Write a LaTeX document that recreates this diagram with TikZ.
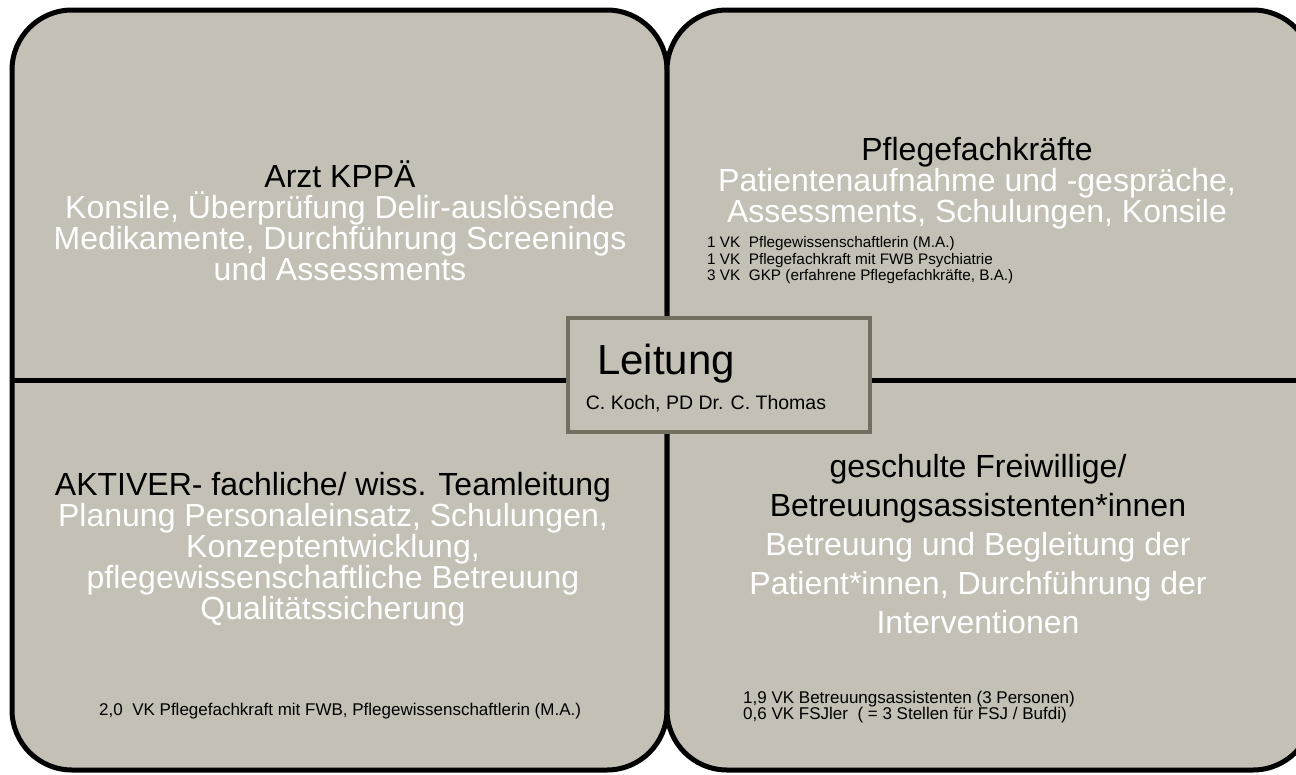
\documentclass[tikz,border=0pt]{standalone}
\usepackage{fontspec}
\setmainfont{Liberation Sans}
\definecolor{panelfill}{RGB}{196,192,182}
\definecolor{boxline}{RGB}{114,110,96}
\newcommand{\wt}[1]{\textcolor{white}{#1}}
\tikzset{
  panel/.style={draw=black, line width=5pt, fill=panelfill, rounded corners=60pt},
  divider/.style={draw=black, line width=5pt},
  bigtext/.style={align=center, inner sep=0pt, font=\fontsize{32}{31}\selectfont},
  bigtextwide/.style={align=center, inner sep=0pt, font=\fontsize{32}{39}\selectfont},
  smalltext/.style={align=left, inner sep=0pt, anchor=west},
  leitbox/.style={draw=boxline, line width=4pt, fill=panelfill, minimum width=302pt, minimum height=114pt, inner sep=0pt, align=center}
}
\begin{document}
\begin{tikzpicture}[x=1pt,y=-1pt]
\useasboundingbox (0,0) rectangle (1296,774);
\clip (0,0) rectangle (1296,774);
% panels
\draw[panel] (12,10) rectangle (667,770);
\draw[panel] (667,10) rectangle (1313,770);
% horizontal divider
\coordinate (hl) at (12,380);
\coordinate (hr) at (1313,380);
\draw[divider] (hl) -- (hr);
% center box
\node[leitbox] (leit) at (719,375) {};
\node[inner sep=0pt, anchor=base, font=\fontsize{42}{42}\selectfont] (leitt) at (666,374) {Leitung};
\node[inner sep=0pt, anchor=base, font=\fontsize{19.5}{22}\selectfont] (leitn) at (706,409) {C. Koch, PD Dr. C. Thomas};
% top-left
\node[bigtext] (tl) at (340,220.5) {Arzt KPPÄ\\
\wt{Konsile, Überprüfung Delir-auslösende}\\
\wt{Medikamente, Durchführung Screenings}\\
\wt{und Assessments}};
% top-right
\node[bigtext] (tr) at (977,183.5) {Pflegefachkräfte\\
\wt{Patientenaufnahme und -gespräche,}\\
\wt{Assessments, Schulungen, Konsile}};
\node[smalltext, font=\fontsize{15.3}{16.5}\selectfont] (trs) at (707,260.5) {1 VK\ \ Pflegewissenschaftlerin (M.A.)\\
1 VK\ \ Pflegefachkraft mit FWB Psychiatrie\\
3 VK\ \ GKP (erfahrene Pflegefachkräfte, B.A.)};
% bottom-left
\node[bigtext] (bl) at (333,549) {AKTIVER- fachliche/ wiss. Teamleitung\\
\wt{Planung Personaleinsatz, Schulungen,}\\
\wt{Konzeptentwicklung,}\\
\wt{pflegewissenschaftliche Betreuung}\\
\wt{Qualitätssicherung}};
\node[smalltext, font=\fontsize{17}{17}\selectfont] (bls) at (99,711) {2,0\ \ VK Pflegefachkraft mit FWB, Pflegewissenschaftlerin (M.A.)};
% bottom-right
\node[bigtextwide] (br) at (978,544) {geschulte Freiwillige/\\
Betreuungsassistenten*innen\\
\wt{Betreuung und Begleitung der}\\
\wt{Patient*innen, Durchführung der}\\
\wt{Interventionen}};
\node[smalltext, font=\fontsize{17}{16.5}\selectfont] (brs) at (743,707) {1,9 VK Betreuungsassistenten (3 Personen)\\
0,6 VK FSJler\ \ ( = 3 Stellen für FSJ / Bufdi)};
\end{tikzpicture}
\end{document}
